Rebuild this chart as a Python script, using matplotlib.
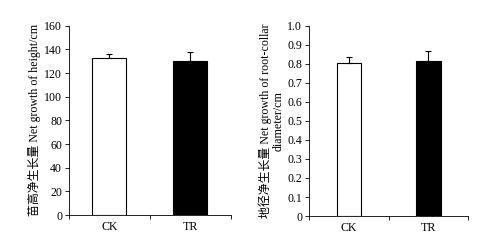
import numpy as np
import matplotlib
matplotlib.use("Agg")
import matplotlib.pyplot as plt

plt.rcParams['font.family'] = ['Liberation Serif', 'Noto Sans CJK SC']
plt.rcParams['font.size'] = 8.6

# data
groups = ["CK", "TR"]
height_mean = [133, 130]
height_err = [3, 8]
diam_mean = [0.805, 0.815]
diam_err = [0.03, 0.05]
colors = ["white", "black"]

fig = plt.figure(figsize=(4.86, 2.43), dpi=100)
ax1 = fig.add_axes([0.142, 0.115, 0.333, 0.779])
ax2 = fig.add_axes([0.636, 0.111, 0.327, 0.783])


def draw_panel(ax, means, errs, width, ylim, yticks, ytick_labels, ylabel):
    pos = np.arange(len(groups)) + 0.5
    ax.bar(pos, means, width=width, color=colors, edgecolor="black", linewidth=0.8)
    ax.errorbar(pos, means, yerr=[np.zeros(len(errs)), errs], fmt="none",
                ecolor="black", elinewidth=0.8, capsize=2.5, capthick=0.8)
    ax.set_xlim(0, 2)
    ax.set_ylim(*ylim)
    ax.set_yticks(yticks)
    ax.set_yticklabels(ytick_labels)
    ax.set_xticks([0, 1, 2])
    ax.set_xticklabels(["", "", ""])
    ax.set_xticks(pos, minor=True)
    ax.set_xticklabels(groups, minor=True)
    ax.tick_params(axis="x", which="minor", length=0, pad=4)
    ax.tick_params(axis="x", which="major", direction="out", length=3, width=0.6)
    ax.tick_params(axis="y", direction="out", length=3, width=0.6, pad=2)
    for s in ["top", "right"]:
        ax.spines[s].set_visible(False)
    for s in ["left", "bottom"]:
        ax.spines[s].set_linewidth(0.6)
    ax.set_ylabel(ylabel, labelpad=2, linespacing=1.1)


draw_panel(ax1, height_mean, height_err, 0.42, (0, 160),
           np.arange(0, 161, 20), [str(v) for v in range(0, 161, 20)],
           "苗高净生长量 Net growth of height/cm")

dticks = np.round(np.arange(0, 1.01, 0.1), 1)
dlabels = ["0"] + [f"{v:.1f}" for v in dticks[1:]]
draw_panel(ax2, diam_mean, diam_err, 0.31, (0, 1.0), dticks, dlabels,
           "地径净生长量 Net growth of root-collar\ndiameter/cm")

fig.savefig("out.png", dpi=100)
